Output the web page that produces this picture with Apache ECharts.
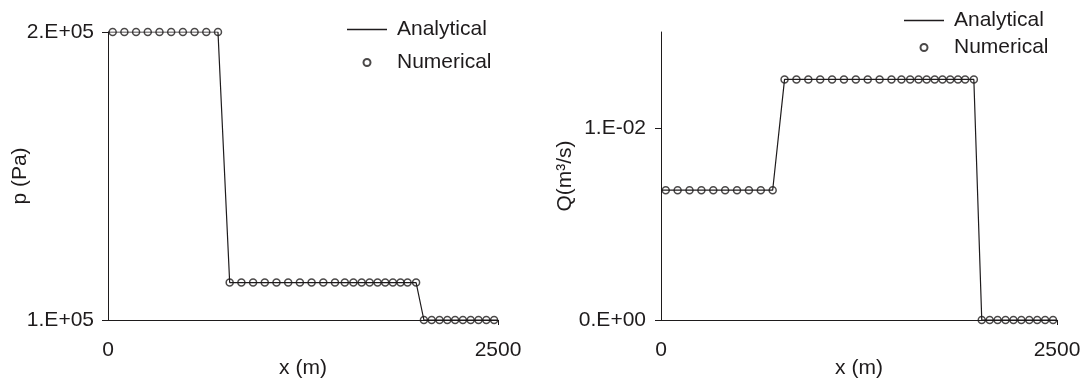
<!DOCTYPE html>
<html>
<head>
<meta charset="utf-8">
<script src="https://cdn.jsdelivr.net/npm/echarts@6/dist/echarts.min.js"></script>
<style>
html,body{margin:0;padding:0;background:#fff;}
#chart{width:1084px;height:378px;}
</style>
</head>
<body>
<div id="chart"></div>
<script>
// ---- data ----
const seriesNames = ['Analytical', 'Numerical'];

// analytical step profile (x in m)
const xAnalytical = [0, 705, 780, 1975, 2025, 2500];
const pAnalytical = [200000, 200000, 113000, 113000, 100000, 100000];
const qAnalytical = [0.00676, 0.00676, 0.01253, 0.01253, 0, 0];

// numerical sample positions (x in m)
const xNumerical = [30, 105, 180, 255, 330, 405, 480, 555, 630, 705,
  780, 855, 930, 1005, 1080, 1155, 1230, 1305, 1380, 1455,
  1518, 1573, 1626, 1677, 1728, 1777, 1826, 1875, 1920, 1975,
  2025, 2075, 2125, 2175, 2225, 2275, 2325, 2375, 2425, 2475];
const pNumerical = [200000, 200000, 200000, 200000, 200000, 200000, 200000, 200000, 200000, 200000,
  113000, 113000, 113000, 113000, 113000, 113000, 113000, 113000, 113000, 113000,
  113000, 113000, 113000, 113000, 113000, 113000, 113000, 113000, 113000, 113000,
  100000, 100000, 100000, 100000, 100000, 100000, 100000, 100000, 100000, 100000];
const qNumerical = [0.00676, 0.00676, 0.00676, 0.00676, 0.00676, 0.00676, 0.00676, 0.00676, 0.00676, 0.00676,
  0.01253, 0.01253, 0.01253, 0.01253, 0.01253, 0.01253, 0.01253, 0.01253, 0.01253, 0.01253,
  0.01253, 0.01253, 0.01253, 0.01253, 0.01253, 0.01253, 0.01253, 0.01253, 0.01253, 0.01253,
  0, 0, 0, 0, 0, 0, 0, 0, 0, 0];

// tick values and labels
const xTicks = [0, 2500];
const xTickLabels = ['0', '2500'];
const pTicks = [100000, 200000];
const pTickLabels = ['1.E+05', '2.E+05'];
const qTicks = [0, 0.01];
const qTickLabels = ['0.E+00', '1.E-02'];

const xTitle = 'x (m)';
const pTitle = 'p (Pa)';
const qTitle = 'Q(m\u00B3/s)';

// ---- drawing ----
const INK = '#1e1b1c';
const FONT = '"Liberation Sans", Arial, Helvetica, sans-serif';
const FS = 21;

function zip(xs, ys) { return xs.map((x, i) => [x, ys[i]]); }
function labeler(ticks, labels) {
  return v => { const i = ticks.findIndex(t => Math.abs(t - v) < 1e-9 * Math.max(1, Math.abs(t))); return i >= 0 ? labels[i] : ''; };
}

function xAxisCfg(gi) {
  return {
    type: 'value', gridIndex: gi, min: 0, max: 2500, interval: 2500,
    axisLine: { show: true, onZero: false, lineStyle: { color: INK, width: 1 } },
    axisTick: { show: true, length: 5, customValues: [2500], lineStyle: { color: INK, width: 1 } },
    axisLabel: { color: INK, fontSize: FS, fontFamily: FONT, margin: 20, customValues: xTicks, formatter: labeler(xTicks, xTickLabels) },
    splitLine: { show: false },
    name: xTitle, nameLocation: 'middle', nameGap: 38, nameMoveOverlap: false,
    nameTextStyle: { color: INK, fontSize: FS, fontFamily: FONT }
  };
}

function lineLegend(left, top, name) {
  return {
    left: left, top: top, padding: 0, orient: 'vertical',
    itemWidth: 40, itemHeight: 1.3,
    textStyle: { color: INK, fontSize: FS, fontFamily: FONT, padding: [0, 0, 0, 5] },
    data: [{ name: name, icon: 'rect', itemStyle: { color: INK } }],
    selectedMode: false
  };
}
function dotLegend(left, top, name, textPad) {
  return {
    left: left, top: top, padding: 0, orient: 'vertical',
    itemWidth: 7, itemHeight: 7,
    textStyle: { color: INK, fontSize: FS, fontFamily: FONT, padding: [0, 0, 0, textPad] },
    data: [name],
    selectedMode: false
  };
}

const option = {
  animation: false,
  backgroundColor: '#ffffff',
  textStyle: { fontFamily: FONT },
  grid: [
    { left: 108, top: 32, width: 390, height: 288, outerBoundsMode: 'none', containLabel: false },
    { left: 661, top: 32, width: 396, height: 288, outerBoundsMode: 'none', containLabel: false }
  ],
  legend: [
    lineLegend(347, 19, seriesNames[0]),
    dotLegend(362.5, 52, seriesNames[1], 21.5),
    lineLegend(904, 10, seriesNames[0]),
    dotLegend(919.5, 37, seriesNames[1], 21.5)
  ],
  xAxis: [xAxisCfg(0), xAxisCfg(1)],
  yAxis: [
    {
      type: 'value', gridIndex: 0, min: 100000, max: 200000, interval: 100000,
      axisLine: { show: true, onZero: false, lineStyle: { color: INK, width: 1 } },
      axisTick: { show: true, length: 6, customValues: pTicks, lineStyle: { color: INK, width: 1 } },
      axisLabel: { color: INK, fontSize: FS, fontFamily: FONT, margin: 14, customValues: pTicks, formatter: labeler(pTicks, pTickLabels) },
      splitLine: { show: false },
      name: pTitle, nameLocation: 'middle', nameGap: 77, nameRotate: 90, nameMoveOverlap: false,
      nameTextStyle: { color: INK, fontSize: FS, fontFamily: FONT }
    },
    {
      type: 'value', gridIndex: 1, min: 0, max: 0.015, interval: 0.01,
      axisLine: { show: true, onZero: false, lineStyle: { color: INK, width: 1 } },
      axisTick: { show: true, length: 6, customValues: qTicks, lineStyle: { color: INK, width: 1 } },
      axisLabel: { color: INK, fontSize: FS, fontFamily: FONT, margin: 15, customValues: qTicks, formatter: labeler(qTicks, qTickLabels) },
      splitLine: { show: false },
      name: qTitle, nameLocation: 'middle', nameGap: 85, nameRotate: 90, nameMoveOverlap: false,
      nameTextStyle: { color: INK, fontSize: FS, fontFamily: FONT }
    }
  ],
  series: [
    {
      name: seriesNames[0], type: 'line', xAxisIndex: 0, yAxisIndex: 0,
      data: zip(xAnalytical, pAnalytical), symbol: 'none',
      lineStyle: { color: INK, width: 1.2 }, itemStyle: { color: INK }, z: 2
    },
    {
      name: seriesNames[1], type: 'scatter', xAxisIndex: 0, yAxisIndex: 0,
      data: zip(xNumerical, pNumerical), symbol: 'circle', symbolSize: 7,
      itemStyle: { color: 'rgba(255,255,255,0)', borderColor: INK, borderWidth: 1.5 }, z: 3
    },
    {
      name: seriesNames[0], type: 'line', xAxisIndex: 1, yAxisIndex: 1,
      data: zip(xAnalytical, qAnalytical), symbol: 'none',
      lineStyle: { color: INK, width: 1.2 }, itemStyle: { color: INK }, z: 2
    },
    {
      name: seriesNames[1], type: 'scatter', xAxisIndex: 1, yAxisIndex: 1,
      data: zip(xNumerical, qNumerical), symbol: 'circle', symbolSize: 7,
      itemStyle: { color: 'rgba(255,255,255,0)', borderColor: INK, borderWidth: 1.5 }, z: 3
    }
  ]
};

const chart = echarts.init(document.getElementById('chart'), null, { renderer: 'canvas' });
chart.setOption(option);
</script>
</body>
</html>
